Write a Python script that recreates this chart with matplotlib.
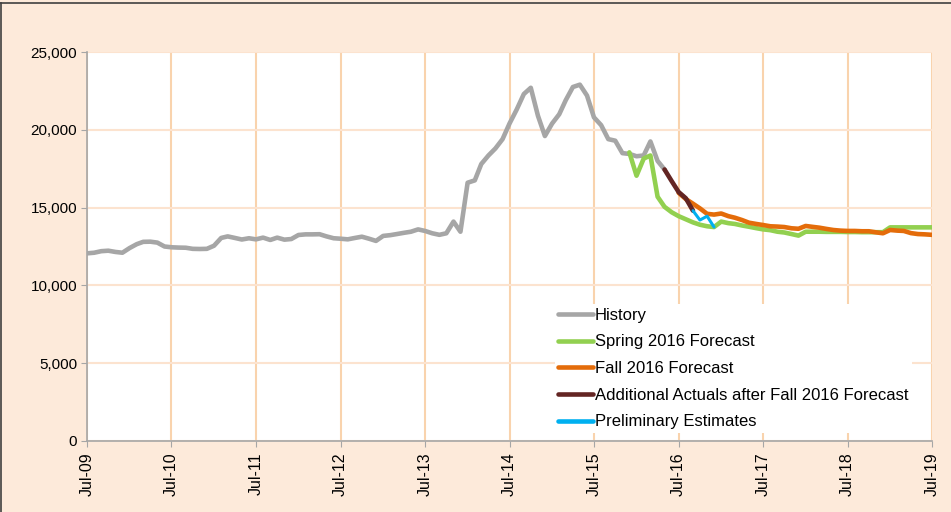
import matplotlib
matplotlib.use("Agg")
import matplotlib.pyplot as plt
from matplotlib.lines import Line2D
from matplotlib.ticker import FuncFormatter
import pandas as pd

plt.rcParams['font.family'] = ['Liberation Sans', 'DejaVu Sans']

# ---------------- data ----------------
history_start = "2009-07-01"
history = [12060, 12100, 12200, 12230, 12150, 12100, 12400, 12650, 12800, 12810,
           12750, 12500, 12450, 12430, 12420, 12350, 12340, 12350, 12550, 13050,
           13150, 13050, 12950, 13030, 12960, 13070, 12920, 13070, 12940, 12980,
           13240, 13280, 13280, 13290, 13150, 13030, 13000, 12960, 13050, 13130,
           13000, 12860, 13180, 13230, 13300, 13380, 13450, 13600, 13500, 13350,
           13250, 13350, 14100, 13450, 16600, 16750, 17800, 18350, 18800, 19400,
           20400, 21300, 22300, 22700, 20900, 19600, 20400, 21000, 21900, 22750,
           22900, 22200, 20800, 20300, 19400, 19300, 18500, 18450, 18300, 18350,
           19250, 18000, 17450]

spring_start = "2015-12-01"
spring2016 = [18550, 17050, 18150, 18350, 15700, 15050, 14700, 14450, 14250, 14050,
              13900, 13800, 13750, 14100, 14000, 13950, 13850, 13770, 13680, 13600,
              13550, 13450, 13400, 13300, 13200, 13450, 13450, 13450, 13440, 13440,
              13440, 13430, 13430, 13420, 13420, 13420, 13420, 13730, 13730, 13730,
              13730, 13730, 13730, 13730]

fall_start = "2016-07-01"
fall2016 = [15950, 15550, 15250, 14950, 14600, 14550, 14620, 14450, 14350, 14200,
            14030, 13950, 13880, 13800, 13780, 13750, 13670, 13640, 13820, 13760,
            13710, 13630, 13560, 13520, 13500, 13500, 13480, 13480, 13410, 13350,
            13560, 13520, 13500, 13360, 13300, 13280, 13250]

actuals_start = "2016-05-01"
additional_actuals = [17450, 16700, 16000, 15600, 14800]

prelim_start = "2016-09-01"
preliminary = [14800, 14200, 14450, 13750]

labels = ["History", "Spring 2016 Forecast", "Fall 2016 Forecast",
          "Additional Actuals after Fall 2016 Forecast", "Preliminary Estimates"]
colors = ["#A6A6A6", "#92D050", "#E46C0A", "#632523", "#00B0F0"]

tick_dates = pd.date_range("2009-07-01", "2019-07-01", freq="12MS")
tick_labels = [d.strftime("Jul-%y") for d in tick_dates]
y_ticks = [0, 5000, 10000, 15000, 20000, 25000]


def idx(start, vals):
    return pd.date_range(start, periods=len(vals), freq="MS")


# ---------------- figure ----------------
W, H = 951, 512
fig = plt.figure(figsize=(W / 100, H / 100), dpi=100)
fig.patch.set_facecolor("#FDEADA")
ax = fig.add_axes([87 / W, 1 - 441 / H, (932 - 87) / W, (441 - 52) / H])
ax.set_facecolor("white")

series = [(history_start, history, 3.3),
          (spring_start, spring2016, 3.3),
          (fall_start, fall2016, 3.3),
          (actuals_start, additional_actuals, 3.3),
          (prelim_start, preliminary, 2.2)]
for (start, vals, lw), lab, col in zip(series, labels, colors):
    ax.plot(idx(start, vals), vals, color=col, lw=lw, label=lab,
            solid_capstyle="round", solid_joinstyle="round", zorder=3)

ax.set_xlim(tick_dates[0], tick_dates[-1])
ax.set_ylim(0, 25000)
ax.set_xticks(tick_dates)
ax.set_xticklabels(tick_labels, rotation=90, fontsize=11.5)
ax.set_yticks(y_ticks)
ax.yaxis.set_major_formatter(FuncFormatter(lambda v, p: f"{int(v):,}"))
ax.tick_params(axis="y", labelsize=11, length=4, color="#A6A6A6", pad=3)
ax.tick_params(axis="x", length=4, color="#A6A6A6", pad=4)

ax.grid(axis="x", color="#F9D3AD", lw=1.5, zorder=0)
ax.grid(axis="y", color="#FCE3CF", lw=1.5, zorder=0)
for s in ["top", "right"]:
    ax.spines[s].set_visible(False)
for s in ["left", "bottom"]:
    ax.spines[s].set_color("#A6A6A6")
    ax.spines[s].set_linewidth(1.2)

leg = ax.legend(loc="lower right", bbox_to_anchor=(0.986, 0.0), fontsize=12,
                frameon=True, facecolor="white", edgecolor="none", framealpha=1,
                fancybox=False, handlelength=2.1, handletextpad=0.1,
                labelspacing=0.7, borderpad=0.2)
for h in leg.get_lines():
    h.set_linewidth(3.3)
leg.set_zorder(5)

# outer border (top and left)
fig.add_artist(Line2D([0, 1], [1 - 3 / H, 1 - 3 / H], color="#404040", lw=1.2,
                      transform=fig.transFigure))
fig.add_artist(Line2D([1 / W, 1 / W], [0, 1 - 3 / H], color="#404040", lw=1.2,
                      transform=fig.transFigure))

fig.savefig("out.png", dpi=100, facecolor=fig.get_facecolor())
